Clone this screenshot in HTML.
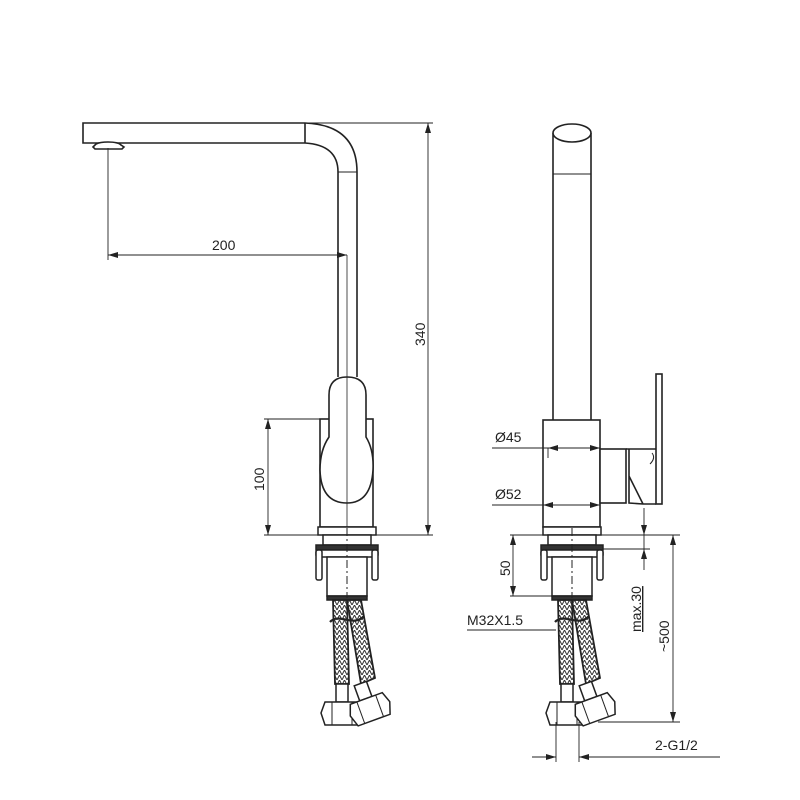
<!DOCTYPE html>
<html><head><meta charset="utf-8"><style>
html,body{margin:0;padding:0;background:#fff;}
svg{display:block}
text{font-family:"Liberation Sans",sans-serif;font-size:14px;fill:#222}
</style></head><body>
<svg width="800" height="800" viewBox="0 0 800 800" xmlns="http://www.w3.org/2000/svg">
<defs>
<marker id="a" viewBox="0 0 10 6" refX="10" refY="3" markerWidth="10" markerHeight="6" orient="auto-start-reverse" markerUnits="userSpaceOnUse"><path d="M0,0 L10,3 L0,6 z" fill="#222"/></marker>
<pattern id="h" width="5" height="5" patternUnits="userSpaceOnUse"><path d="M0,5 L2.5,0 L5,5" stroke="#333" stroke-width="1" fill="none"/></pattern>
<g id="base" stroke="#222" stroke-width="1.5" fill="#fff">
<rect x="-29" y="527" width="58" height="8"/>
<rect x="-24" y="535" width="48" height="10"/>
<rect x="-31" y="545" width="62" height="5" fill="#333"/>
<rect x="-31" y="550" width="62" height="7" rx="2"/>
<rect x="-31" y="550" width="6" height="30" rx="2"/>
<rect x="25" y="550" width="6" height="30" rx="2"/>
<rect x="-20" y="557" width="40" height="39"/>
<rect x="-20" y="596" width="40" height="4" fill="#333"/>
<line x1="0" y1="528" x2="0" y2="598" stroke-dasharray="8,3,2,3" stroke-width="1"/>
<path d="M-14,600 L0,600 L2,684 L-12,684 z" fill="url(#h)" stroke-width="1.8"/>
<path d="M0,600 L14,600 L28,678 L14,684 z" fill="url(#h)" stroke-width="1.8"/>
<path d="M-17,622 C-8,612 6,628 17,616" fill="none" stroke-width="2.2"/>
<rect x="-11" y="684" width="12" height="18"/>
<path d="M-22,702 L12,702 L16,713 L12,725 L-22,725 L-26,713 z"/>
<line x1="-15" y1="702" x2="-15" y2="725" stroke-width="1"/><line x1="5" y1="702" x2="5" y2="725" stroke-width="1"/>
<g transform="rotate(-20 22 706)">
<rect x="15" y="682" width="13" height="16"/>
<path d="M5,698 L39,698 L43,709 L39,721 L5,721 L1,709 z"/>
<line x1="12" y1="698" x2="12" y2="721" stroke-width="1"/><line x1="32" y1="698" x2="32" y2="721" stroke-width="1"/>
</g>
</g>
</defs>

<g stroke="#222" stroke-width="1.6" fill="none">
<path d="M305,123 L83,123 L83,143 L305,143"/>
<line x1="305" y1="123" x2="305" y2="143"/>
<path d="M305,123 Q357,125 357,172 L357,377"/>
<path d="M305,143 Q338,145 338,172 L338,377"/>
<line x1="338" y1="172" x2="357" y2="172" stroke-width="1"/>
<path d="M93,147 L96,144 Q100,142 108,142 Q118,142 121,145 L124,147 L122,149 L95,149 z" fill="#fff"/>
<rect x="320" y="419" width="53" height="108" fill="#fff"/>
<path d="M329,395 Q329,377 347,377 Q366,377 366,395 L366,437 Q374,450 373,470 Q371,503 347,503 Q321,503 320,470 Q320,450 329,437 z" fill="#fff"/>
<line x1="347" y1="255" x2="347" y2="530" stroke-width="0.8"/>
</g>
<use href="#base" x="347"/>

<g stroke="#222" stroke-width="0.9" fill="none">
<line x1="108" y1="148" x2="108" y2="260"/>
<line x1="108" y1="255" x2="347" y2="255" marker-start="url(#a)" marker-end="url(#a)"/>
<line x1="305" y1="123" x2="433" y2="123"/>
<line x1="376" y1="535" x2="433" y2="535"/>
<line x1="428" y1="123" x2="428" y2="535" marker-start="url(#a)" marker-end="url(#a)"/>
<line x1="264" y1="419" x2="320" y2="419"/>
<line x1="264" y1="535" x2="318" y2="535"/>
<line x1="268" y1="419" x2="268" y2="535" marker-start="url(#a)" marker-end="url(#a)"/>
</g>
<text x="212" y="250">200</text>
<text transform="translate(425,346) rotate(-90)">340</text>
<text transform="translate(264,491) rotate(-90)">100</text>

<g stroke="#222" stroke-width="1.6" fill="#fff">
<line x1="553" y1="133" x2="553" y2="420"/>
<line x1="591" y1="133" x2="591" y2="420"/>
<ellipse cx="572" cy="133" rx="19" ry="9"/>
<line x1="553" y1="174" x2="591" y2="174" stroke-width="1"/>
<rect x="543" y="420" width="57" height="107"/>
<rect x="600" y="449" width="26" height="54"/>
<line x1="626" y1="449" x2="656" y2="449"/>
<rect x="656" y="374" width="6" height="130"/>
<path d="M629,449 L629,503 L643,504 L656,504 M629,476 L643,504" fill="none"/>
<path d="M652,453 Q656,458 650,464" fill="none" stroke-width="1"/>
</g>
<use href="#base" x="572"/>

<g stroke="#222" stroke-width="0.9" fill="none">
<line x1="492" y1="448" x2="600" y2="448"/>
<line x1="548" y1="458" x2="548" y2="448" /><line x1="548" y1="448" x2="560" y2="448" marker-start="url(#a)"/>
<line x1="584" y1="448" x2="600" y2="448" marker-end="url(#a)"/>
<line x1="492" y1="505" x2="600" y2="505"/>
<line x1="543" y1="505" x2="556" y2="505" marker-start="url(#a)"/>
<line x1="586" y1="505" x2="600" y2="505" marker-end="url(#a)"/>
<line x1="510" y1="535" x2="543" y2="535"/>
<line x1="510" y1="596" x2="552" y2="596"/>
<line x1="513" y1="535" x2="513" y2="596" marker-start="url(#a)" marker-end="url(#a)"/>
<line x1="467" y1="630" x2="556" y2="630"/>
<line x1="601" y1="535" x2="680" y2="535"/>
<line x1="603" y1="549" x2="650" y2="549"/>
<line x1="644" y1="508" x2="644" y2="535" marker-end="url(#a)"/>
<line x1="644" y1="570" x2="644" y2="549" marker-end="url(#a)"/>
<line x1="644" y1="535" x2="644" y2="549"/>
<line x1="598" y1="722" x2="680" y2="722"/>
<line x1="673" y1="535" x2="673" y2="722" marker-start="url(#a)" marker-end="url(#a)"/>
<line x1="556" y1="722" x2="556" y2="762"/>
<line x1="579" y1="722" x2="579" y2="762"/>
<line x1="532" y1="757" x2="556" y2="757" marker-end="url(#a)"/>
<line x1="720" y1="757" x2="579" y2="757" marker-end="url(#a)"/>
</g>
<text x="495" y="442">Ø45</text>
<text x="495" y="499">Ø52</text>
<text transform="translate(510,576) rotate(-90)">50</text>
<text x="467" y="625">M32X1.5</text>
<text transform="translate(641,632) rotate(-90)" style="text-decoration:underline">max.30</text>
<text transform="translate(669,652) rotate(-90)">~500</text>
<text x="655" y="750">2-G1/2</text>
</svg>
</body></html>
